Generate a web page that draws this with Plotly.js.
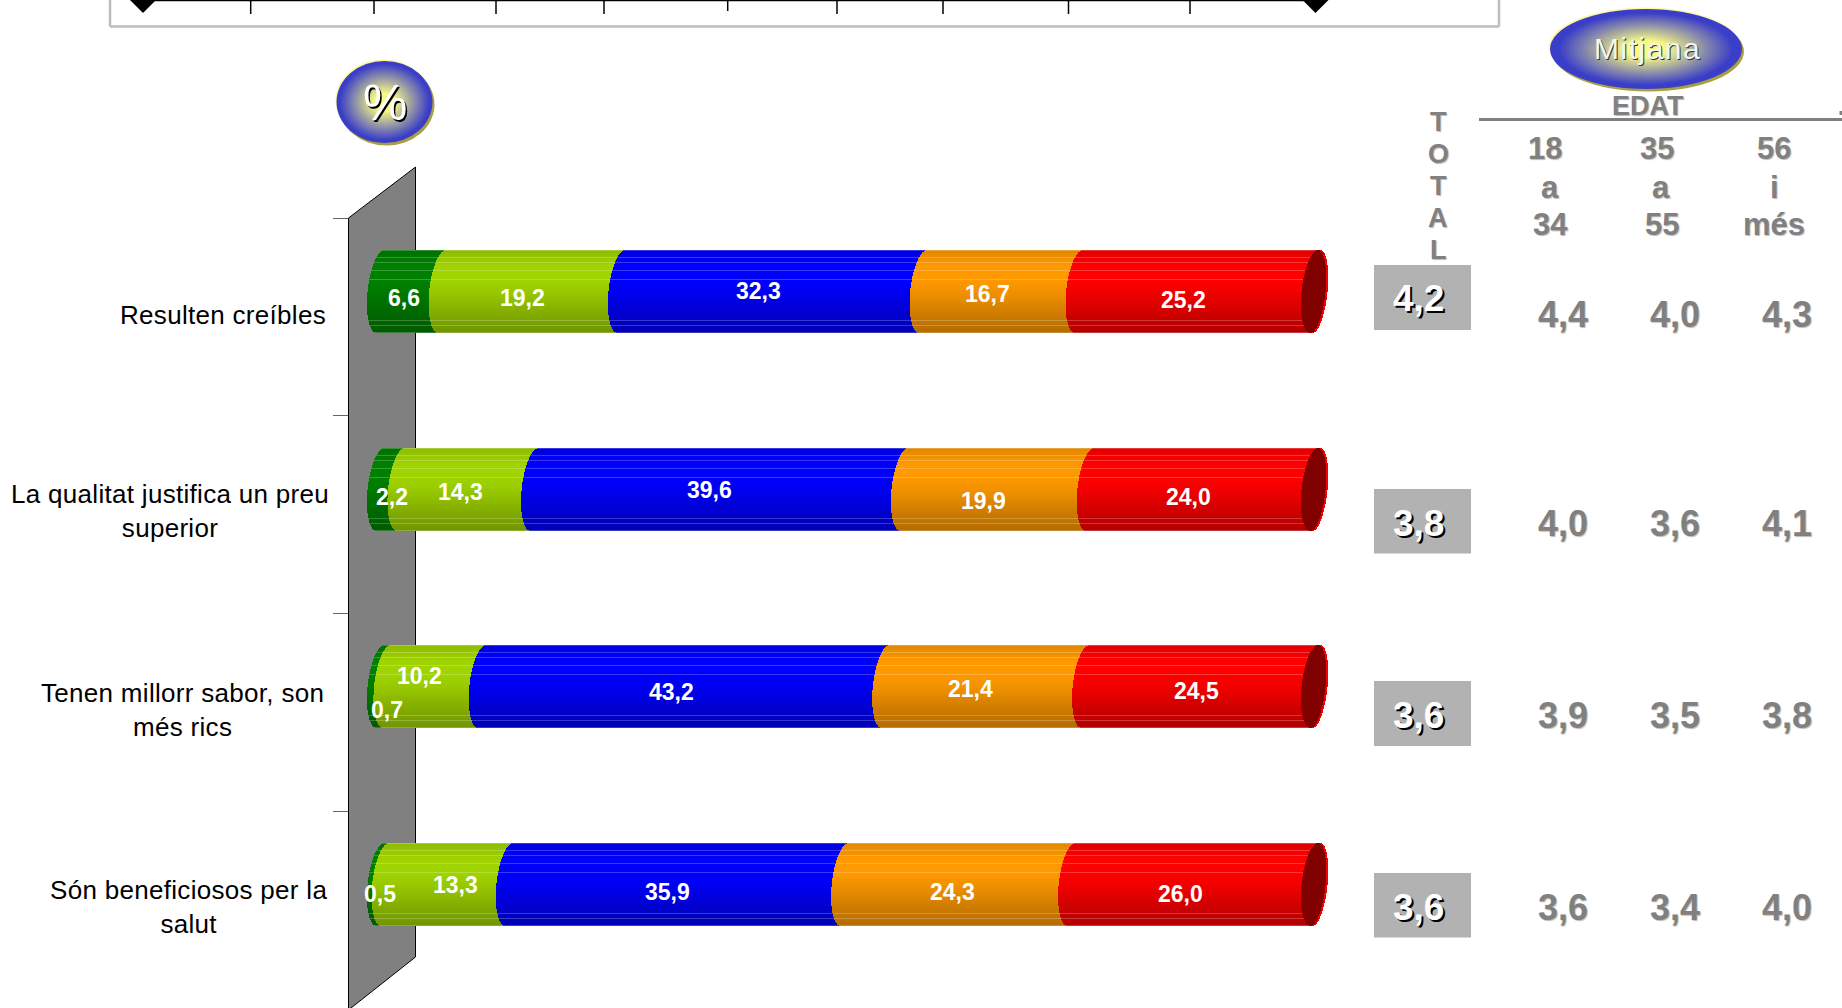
<!DOCTYPE html>
<html><head><meta charset="utf-8">
<script src="https://cdn.plot.ly/plotly-3.0.1.min.js"></script>
<style>html,body{margin:0;padding:0;background:#fff;overflow:hidden}#c{width:1842px;height:1008px}</style>
</head><body><div id="c"></div>
<script>
const categories = ["Resulten creíbles","La qualitat justifica un preu<br>superior","Tenen millorr sabor, son<br>més rics","Són beneficiosos per la<br>salut"];
const s1 = [6.6,2.2,0.7,0.5];
const s2 = [19.2,14.3,10.2,13.3];
const s3 = [32.3,39.6,43.2,35.9];
const s4 = [16.7,19.9,21.4,24.3];
const s5 = [25.2,24.0,24.5,26.0];
const seriesValues = [s1,s2,s3,s4,s5];
const seriesColors = [[0,128,0],[160,212,0],[0,0,255],[255,153,0],[255,0,0]];
const totals = ["4,2","3,8","3,6","3,6"];
const age1834 = ["4,4","4,0","3,9","3,6"];
const age3555 = ["4,0","3,6","3,5","3,4"];
const age56 = ["4,3","4,1","3,8","4,0"];

// layout constants (pixels)
const W=1842,H=1008, X0=367.5, PXPCT=9.34, ROW0=291.6, ROWSTEP=197.5, HALF=41.5;
const SC=1842/1568;
const labelPos=[[[343,253],[444,253],[645,247],[840,250],[1007,255]],
                [[333,423],[391,418],[603,417],[836,426],[1011,423]],
                [[329,604],[356,575],[571,589],[825,586],[1018,588]],
                [[323,761],[387,753],[567,759],[810,759],[1004,761]]];
const catLabelY=[315,511,710,907], catLabelCx=[223,170,182,188];
const totalBoxY=[[265,330],[489,553.5],[681,746],[873,937.5]];
const valueRowY=[314,523,715,907];

const px=x=>x/W, py=y=>1-y/H;
const fmt=v=>v.toFixed(1).replace('.',',');
const lightPx=[0,7,12,20,29,70,75,82];
function shade(t){ // brightness along the height of the cylinder
  const pts=[[0,.88],[.2,1],[.35,1],[.5,.95],[.75,.82],[1,.70]];
  for(let i=1;i<pts.length;i++) if(t<=pts[i][0]){const a=pts[i-1],b=pts[i];return a[1]+(b[1]-a[1])*(t-a[0])/(b[0]-a[0]);}
  return .7;
}
const rgb=c=>`rgb(${c.map(v=>Math.round(v)).join(',')})`;
function strips(){ const out=[]; const n=2*HALF; for(let k=0;k<n;k++){ const t=(k+.5)/n, u=2*t-1;
   const root=Math.sqrt(Math.max(0,1-u*u));
   out.push({k,t,u,root,curve:(13*(1-root)-4*u)/PXPCT}); } return out; }
const S=strips();
const STRIP=1.02/ROWSTEP;
const traces=[];
let cum=categories.map(()=>0);
seriesValues.forEach((vals,si)=>{
  const x=[],y=[],base=[],color=[];
  vals.forEach((v,r)=>S.forEach(s=>{
    x.push(v); y.push(r+(s.k+.5-HALF)/ROWSTEP); base.push(cum[r]+s.curve);
    const f=shade(s.t); let c=seriesColors[si].map(q=>q*f);
    if(lightPx.includes(s.k)) c=c.map(q=>q+(255-q)*.22);
    color.push(rgb(c));
  }));
  traces.push({type:'bar',orientation:'h',x,y,base,width:STRIP,marker:{color,line:{width:0}},hoverinfo:'skip',showlegend:false});
  vals.forEach((v,r)=>cum[r]+=v);
});
// end cap of the cylinder
[[2,'#f00000'],[0,'#800000']].forEach(([pad,col])=>{
  const x=[],y=[],base=[];
  categories.forEach((c,r)=>S.forEach(s=>{
    const w=24*s.root/PXPCT;
    x.push(w+pad/PXPCT); y.push(r+(s.k+.5-HALF)/ROWSTEP); base.push(cum[r]+s.curve);
  }));
  traces.push({type:'bar',orientation:'h',x,y,base,width:STRIP,marker:{color:col,line:{width:0}},hoverinfo:'skip',showlegend:false});
});

const shapes=[], ann=[];
const L=(x0,y0,x1,y1,color,width)=>shapes.push({type:'line',xref:'paper',yref:'paper',x0:px(x0),y0:py(y0),x1:px(x1),y1:py(y1),line:{color,width},layer:'below'});
const ell=(cx,cy,rx,ry,color)=>shapes.push({type:'circle',xref:'paper',yref:'paper',x0:px(cx-rx),x1:px(cx+rx),y0:py(cy-ry),y1:py(cy+ry),fillcolor:color,line:{width:0},layer:'below'});
const path=(pts,fill,line)=>{const d=pts.map((p,i)=>(i?'L':'M')+px(p[0])+','+py(p[1])).join(' ')+' Z';
  shapes.push({type:'path',xref:'paper',yref:'paper',path:d,fillcolor:fill,line:line,layer:'below'});};
// top frame
L(110,0,110,26.5,'#bdbdbd',2.5); L(110,26.5,1499,26.5,'#bdbdbd',2.5); L(1499,0,1499,26.5,'#bdbdbd',2.5);
L(143,0.5,1316,0.5,'#000',1.5);
[[250.7,14],[374,14],[496,14],[604,14],[727.7,11],[837,14],[943,14],[1068.5,14],[1190,14]].forEach(a=>L(a[0],0,a[0],a[1],'#000',1.5));
[143,1315.5].forEach(x=>path([[x-13,0],[x+13,0],[x,13]],'#000',{width:0}));
// wall
path([[348.5,218],[415.5,167],[415.5,957],[348.5,1010]],'#808080',{color:'#000',width:1});
// gradient badges
function badge(cx,cy,rx,ry,core){
  ell(cx+2,cy+2.5,rx,ry,'#a8a040'); ell(cx-1,cy-1.5,rx,ry,'#fdf8a0');
  const blue=[58,62,200], yellow=[250,250,130], N=36;
  for(let i=0;i<N;i++){ const r=1-i/N; let m=(core-r)/(core-.22); m=Math.max(0,Math.min(1,m));
    ell(cx,cy,rx*r,ry*r,rgb(blue.map((b,j)=>b+(yellow[j]-b)*m))); }
}
badge(384.5,102,48,41,.95); badge(1646,49,96,40,.92);
// gray boxes
totalBoxY.forEach(b=>path([[1374,b[0]],[1471,b[0]],[1471,b[1]],[1374,b[1]]],'#b2b2b2',{width:0}));
// edat rule
L(1479,119.5,1842,119.5,'#808080',3);
path([[1839.5,111],[1842,111],[1842,115],[1839.5,115]],'#808080',{width:0});

const F='"Liberation Sans", Arial, sans-serif';
const spaced=(text,ls)=>text.split('<br>').map(l=>`<span style="letter-spacing:${ls}px">${l}</span>`).join('<br>');
function T(text,x,y,size,color,o={}){ ann.push({xref:'paper',yref:'paper',x:px(x),y:py(y),text,showarrow:false,xanchor:'center',yanchor:'middle',align:'center',
  font:{family:F,size,color,weight:o.bold?'bold':'normal',shadow:o.shadow||'none'},borderpad:0,borderwidth:0,bgcolor:'rgba(0,0,0,0)'}); }
categories.forEach((c,i)=>T(spaced(c,0.3),catLabelCx[i],catLabelY[i],26,'#000'));
seriesValues.forEach((vals,si)=>vals.forEach((v,r)=>{const p=labelPos[r][si];T(fmt(v),p[0]*SC+1,p[1]*SC+.5,23,'#fff',{bold:true});}));
T('%',384.5,103,50,'#fff',{shadow:'1.5px 1.5px 0 #000'});
T(spaced('Mitjana',1.5),1647,48,30,'#f4f4f0',{shadow:'1px 1px 0 #333'});
const GS='1px 1px 1px #bbb';
T('EDAT',1647.5,106,27,'#808080',{bold:true,shadow:GS});
['T','O','T','A','L'].forEach((c,i)=>T(c,1438,122+32*i,27,'#808080',{bold:true,shadow:GS}));
[['18','a','34',1545,1549.5,1550],['35','a','55',1657,1661,1662],['56','i','més',1774,1774,1774]].forEach(a=>{
  T(a[0],a[3],148,31,'#808080',{bold:true,shadow:GS});T(a[1],a[4],187,31,'#808080',{bold:true,shadow:GS});T(a[2],a[5],225,31,'#808080',{bold:true,shadow:GS});});
totals.forEach((v,i)=>T(v,1418.5,[298,523,715,907][i],37,'#fff',{bold:true,shadow:'2px 2px 0 #000'}));
[[age1834,1562.7],[age3555,1675],[age56,1787]].forEach(([arr,x])=>arr.forEach((v,i)=>T(v,x,valueRowY[i],36,'#808080',{bold:true,shadow:GS})));

const layout={width:W,height:H,margin:{l:0,r:0,t:0,b:0},paper_bgcolor:'#fff',plot_bgcolor:'rgba(0,0,0,0)',barmode:'overlay',bargap:0,bargroupgap:0,showlegend:false,
  xaxis:{visible:false,range:[(0-X0)/PXPCT,(W-X0)/PXPCT],fixedrange:true},
  yaxis:{range:[(H-ROW0)/ROWSTEP,(0-ROW0)/ROWSTEP],anchor:'free',position:348/W,showgrid:false,zeroline:false,showline:false,showticklabels:false,
    ticks:'outside',ticklen:15,tickwidth:1,tickcolor:'#666',tickmode:'array',tickvals:[-.37,.625,1.63,2.63],fixedrange:true},
  shapes,annotations:ann};
Plotly.newPlot('c',traces,layout,{displayModeBar:false,staticPlot:true});
</script></body></html>
